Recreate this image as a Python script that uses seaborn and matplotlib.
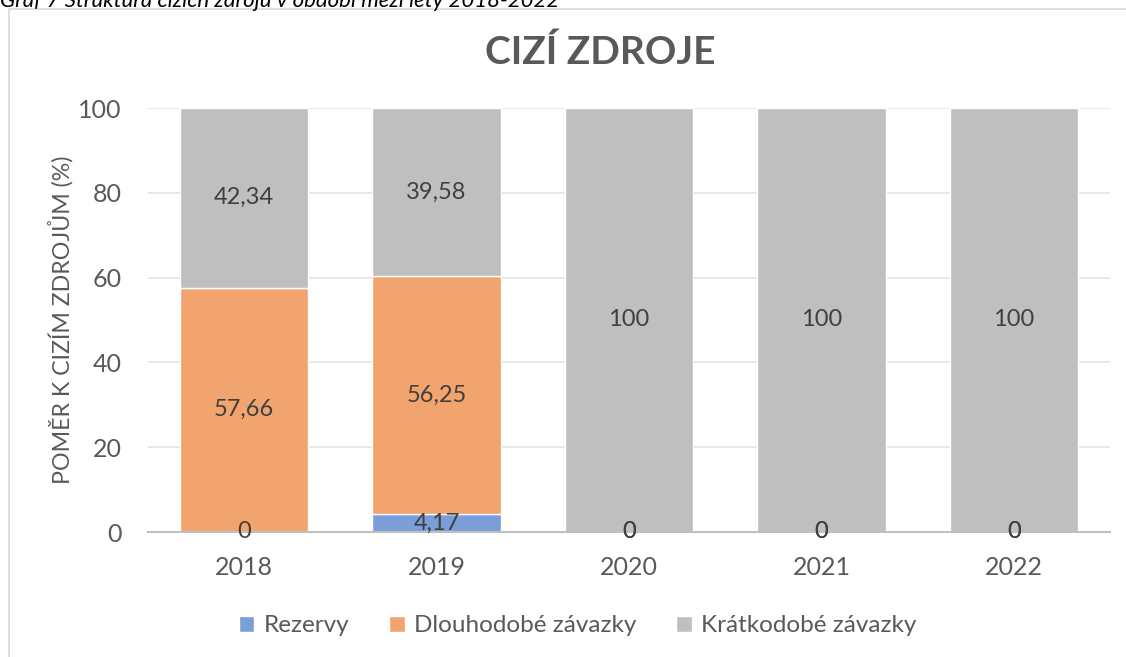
import matplotlib
matplotlib.use("Agg")
import matplotlib.pyplot as plt
import seaborn as sns
import pandas as pd
import numpy as np
from matplotlib.patches import Rectangle

years = ["2018", "2019", "2020", "2021", "2022"]
rezervy = [0, 4.17, 0, 0, 0]
dlouhodobe = [57.66, 56.25, 0, 0, 0]
kratkodobe = [42.34, 39.58, 100, 100, 100]
series_names = ["Rezervy", "Dlouhodobé závazky", "Krátkodobé závazky"]
colors = ["#7C9ED8", "#F1A46E", "#BFBFBF"]

sns.set_theme(style="white")
plt.rcParams['font.family'] = ['Lato', 'DejaVu Sans']

fig = plt.figure(figsize=(11.26, 6.57), dpi=100)
ax = fig.add_axes([148/1126, 1-532/657, (1110-148)/1126, (532-108)/657])

# frame around chart
fig.patches.append(Rectangle((9/1126, -0.1), 1.2, 1 - 9/657 + 0.1, transform=fig.transFigure,
                             fill=False, edgecolor="#D9D9D9", linewidth=1.2, zorder=0))

vals = [rezervy, dlouhodobe, kratkodobe]
bottom = np.zeros(len(years))
for name, v, c in zip(series_names, vals, colors):
    df = pd.DataFrame({"year": years, "val": v})
    sns.barplot(data=df, x="year", y="val", color=c, bottom=bottom, width=0.667,
                ax=ax, label=name, saturation=1, zorder=2)
    bottom = bottom + np.array(v)

for cont in ax.containers:
    labs = [("%g" % b.get_height()).replace(".", ",") for b in cont]
    ax.bar_label(cont, labels=labs, label_type="center", fontsize=17, color="#404040")

ax.set_ylim(0, 100)
ax.set_xlim(-0.5, 4.5)
ax.set_yticks([0, 20, 40, 60, 80, 100])
ax.yaxis.grid(True, color="#E4E4E4", linewidth=1.2, zorder=0)
ax.set_axisbelow(True)
for s in ["top", "right", "left"]:
    ax.spines[s].set_visible(False)
ax.spines["bottom"].set_color("#BFBFBF")
ax.spines["bottom"].set_linewidth(1.5)
ax.tick_params(axis="both", length=0, labelsize=18, labelcolor="#595959")
ax.tick_params(axis="y", pad=19)
ax.tick_params(axis="x", pad=17)
ax.set_xlabel("")
ax.set_ylabel("POMĚR K CIZÍM ZDROJŮM (%)", fontsize=16.7, color="#595959")
ax.yaxis.set_label_coords(-0.077, 0.5)

fig.text(600/1126, 1-52/657, "CIZÍ ZDROJE", fontsize=28, fontweight="bold", color="#595959",
         ha="center", va="center")

leg = ax.legend(loc="upper center", bbox_to_anchor=(0.4465, -0.145), ncol=3, frameon=False,
                fontsize=17.5, handlelength=0.65, handleheight=0.65, handletextpad=0.37,
                columnspacing=1.65, labelcolor="#595959")

fig.text(0.0, 0.998, "Graf 7 Struktura cizích zdrojů v období mezi lety 2018-2022",
         fontsize=16, style="italic", color="#000000", ha="left", va="center")

fig.savefig("out.png", dpi=100)
